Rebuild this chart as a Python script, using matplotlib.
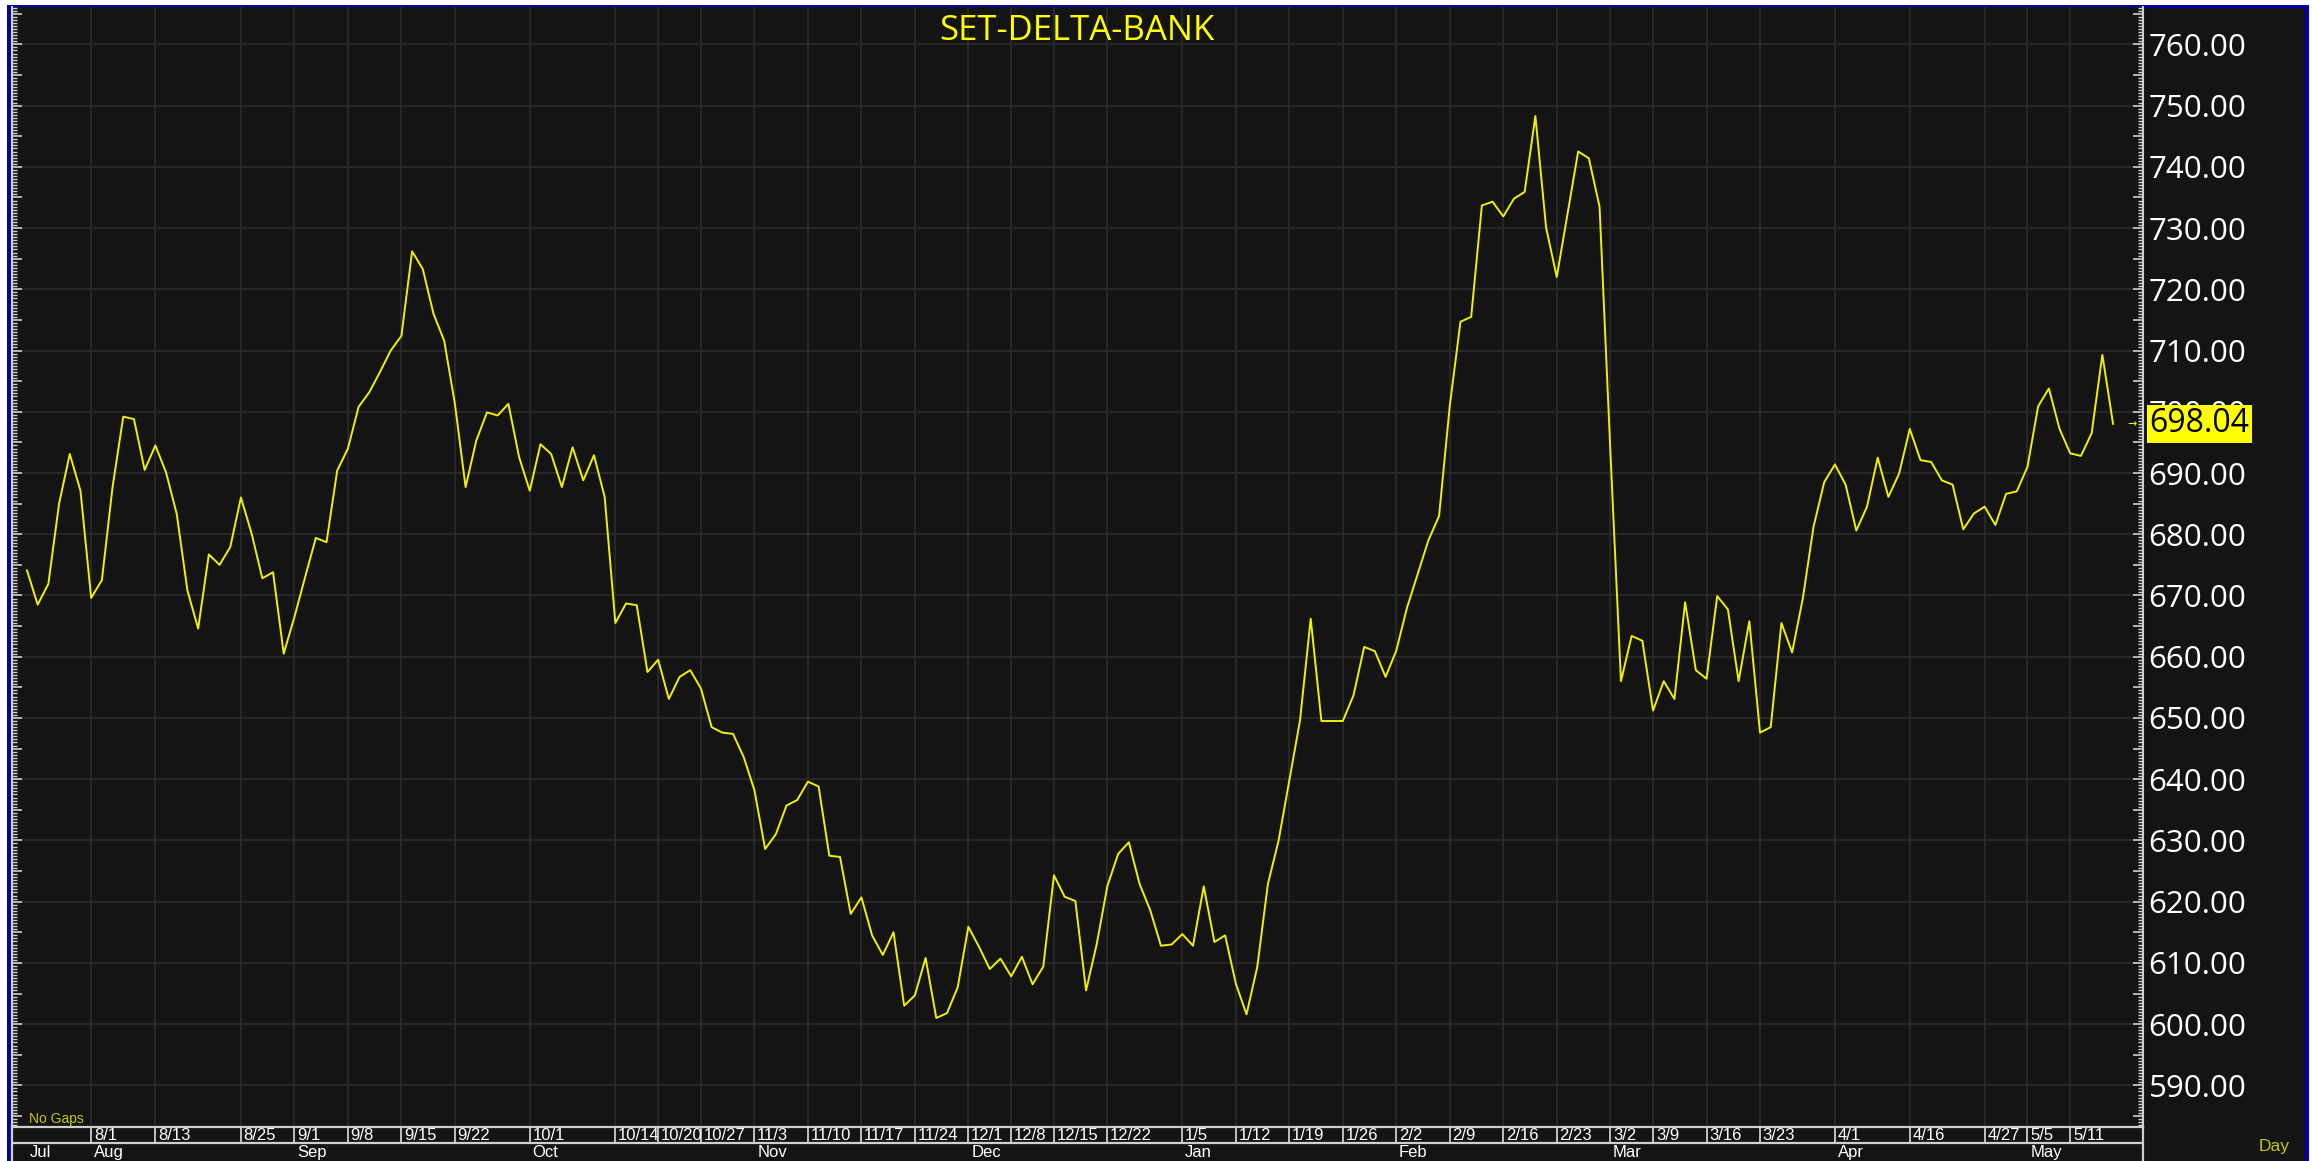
import numpy as np
import pandas as pd
import matplotlib
matplotlib.use('Agg')
import matplotlib.pyplot as plt
from matplotlib.patches import Rectangle
from matplotlib.ticker import MultipleLocator, FuncFormatter

plt.rcParams['font.family'] = ['Open Sans', 'DejaVu Sans']
narrow = ['Liberation Sans Narrow', 'Liberation Sans', 'DejaVu Sans']

title = 'SET-DELTA-BANK'

# trading calendar (SET, no gaps)
start_date = '2025-07-23'
end_date = '2026-05-15'
holidays = ['2025-07-28', '2025-08-11', '2025-08-12', '2025-10-13', '2025-10-23',
            '2025-12-05', '2025-12-10', '2025-12-31', '2026-01-01', '2026-01-02',
            '2026-03-03', '2026-04-06', '2026-04-13', '2026-04-14', '2026-04-15',
            '2026-05-01', '2026-05-04']

# daily close
closes = [
    674.1, 668.5, 671.9, 685.0, 693.1, 687.1, 669.6, 672.5, 687.7, 699.2,
    698.8, 690.5, 694.5, 690.1, 683.3, 670.8, 664.6, 676.7, 675.0, 677.9,
    686.0, 680.1, 672.8, 673.8, 660.5, 666.5, 673.0, 679.4, 678.7, 690.4,
    694.0, 700.8, 703.2, 706.5, 710.0, 712.4, 726.2, 723.3, 716.0, 711.6,
    701.3, 687.7, 695.3, 699.9, 699.4, 701.3, 692.6, 687.1, 694.7, 693.1,
    687.7, 694.2, 688.8, 692.9, 686.1, 665.5, 668.7, 668.4, 657.5, 659.5,
    653.1, 656.7, 657.8, 654.8, 648.5, 647.6, 647.4, 643.6, 638.2, 628.6,
    631.0, 635.7, 636.6, 639.6, 638.8, 627.5, 627.3, 618.0, 620.7, 614.5,
    611.3, 615.0, 603.0, 604.7, 610.8, 601.0, 601.8, 606.0, 615.9, 612.6,
    609.0, 610.7, 607.8, 611.0, 606.5, 609.4, 624.3, 620.8, 620.1, 605.5,
    613.1, 622.6, 627.8, 629.7, 622.9, 618.6, 612.8, 613.0, 614.7, 612.8,
    622.5, 613.4, 614.5, 606.6, 601.6, 609.3, 622.9, 630.0, 639.8, 649.6,
    666.2, 649.5, 649.5, 649.5, 653.7, 661.6, 660.9, 656.7, 661.0, 668.0,
    673.5, 679.0, 683.0, 701.0, 714.7, 715.5, 733.7, 734.3, 731.9, 734.8,
    735.9, 748.3, 730.1, 722.0, 732.3, 742.5, 741.4, 733.5, 694.0, 656.0,
    663.4, 662.6, 651.2, 656.0, 653.1, 668.9, 657.8, 656.4, 669.9, 667.7,
    656.0, 665.8, 647.6, 648.5, 665.5, 660.7, 669.5, 681.2, 688.5, 691.4,
    688.1, 680.6, 684.5, 692.5, 686.1, 689.9, 697.2, 692.1, 691.8, 688.8,
    688.1, 680.8, 683.4, 684.5, 681.5, 686.6, 687.0, 691.0, 700.9, 703.8,
    697.2, 693.2, 692.8, 696.5, 709.3, 698.04,
]
last_close = 698.04

day_labels = ['8/1', '8/13', '8/25', '9/1', '9/8', '9/15', '9/22', '10/1', '10/14',
              '10/20', '10/27', '11/3', '11/10', '11/17', '11/24', '12/1', '12/8',
              '12/15', '12/22', '1/5', '1/12', '1/19', '1/26', '2/2', '2/9', '2/16',
              '2/23', '3/2', '3/9', '3/16', '3/23', '4/1', '4/16', '4/27', '5/5', '5/11']
day_label_dates = ['2025-08-01', '2025-08-13', '2025-08-25', '2025-09-01', '2025-09-08',
                   '2025-09-15', '2025-09-22', '2025-10-01', '2025-10-14', '2025-10-20',
                   '2025-10-27', '2025-11-03', '2025-11-10', '2025-11-17', '2025-11-24',
                   '2025-12-01', '2025-12-08', '2025-12-15', '2025-12-22', '2026-01-05',
                   '2026-01-12', '2026-01-19', '2026-01-26', '2026-02-02', '2026-02-09',
                   '2026-02-16', '2026-02-23', '2026-03-02', '2026-03-09', '2026-03-16',
                   '2026-03-23', '2026-04-01', '2026-04-16', '2026-04-27', '2026-05-05',
                   '2026-05-11']
month_labels = ['Jul', 'Aug', 'Sep', 'Oct', 'Nov', 'Dec', 'Jan', 'Feb', 'Mar', 'Apr', 'May']
month_label_dates = ['2025-07-23', '2025-08-01', '2025-09-01', '2025-10-01', '2025-11-03',
                     '2025-12-01', '2026-01-05', '2026-02-02', '2026-03-02', '2026-04-01',
                     '2026-05-05']

dates = pd.bdate_range(start_date, end_date, freq='C', holidays=holidays)
x = np.arange(len(closes))
day_idx = dates.get_indexer(pd.to_datetime(day_label_dates))
month_idx = dates.get_indexer(pd.to_datetime(month_label_dates))

W, H = 2318, 1161
def fx(px):
    return px / W
def fy(py):
    return 1 - py / H

bg = '#141414'
grid_c = '#2a2a2a'
axis_c = '#cfcfcf'
yellow = '#ffff00'
olive = '#c8c800'

fig = plt.figure(figsize=(W / 100, H / 100), dpi=100, facecolor='white')
fig.patches.append(Rectangle((fx(7), 0), fx(2309) - fx(7), fy(5), transform=fig.transFigure,
                             facecolor='#0000a8', edgecolor='none', zorder=-20))
fig.patches.append(Rectangle((fx(10), 0), fx(2305) - fx(10), fy(8), transform=fig.transFigure,
                             facecolor=bg, edgecolor='none', zorder=-10))

# main price panel
ax = fig.add_axes([fx(12), fy(1127), fx(2143) - fx(12), fy(7) - fy(1127)])
ax.set_facecolor(bg)
ax.set_xlim(-1.4, 197.8)
ax.set_ylim(583.2, 766.1)

for v in range(590, 761, 10):
    ax.axhline(v, color=grid_c, lw=1.3, zorder=0)
for i in day_idx:
    ax.axvline(i, color=grid_c, lw=1.3, zorder=0)

ax.plot(x, closes, color='#f0f000', lw=1.4, zorder=3)

for s in ['top', 'bottom']:
    ax.spines[s].set_visible(False)
for s in ['left', 'right']:
    ax.spines[s].set_color(axis_c)
    ax.spines[s].set_linewidth(1.5)

ax.set_xticks([])
ax.yaxis.set_major_locator(MultipleLocator(5))
ax.yaxis.set_minor_locator(MultipleLocator(0.5))
ax.yaxis.set_major_formatter(FuncFormatter(
    lambda v, p: f'{v:.2f}' if abs(v / 10 - round(v / 10)) < 1e-6 else ''))
ax.tick_params(axis='y', which='both', direction='in', left=True, right=True,
               labelleft=False, labelright=True, color=axis_c, labelcolor='white')
ax.tick_params(axis='y', which='major', length=7, width=1.2, labelsize=22.5, pad=4)
ax.tick_params(axis='y', which='minor', length=3.5, width=1)

# last value tag
ax.annotate(f'{last_close:.2f}', xy=(1, last_close), xycoords=('axes fraction', 'data'),
            xytext=(4.8, 0), textcoords='offset points', ha='left', va='center',
            fontsize=23, color='black', annotation_clip=False, zorder=10,
            bbox=dict(boxstyle='square,pad=0.07', facecolor=yellow, edgecolor='none'))
ax.annotate('\u2192', xy=(1, last_close), xycoords=('axes fraction', 'data'),
            xytext=(-8, 0), textcoords='offset points', ha='center', va='center',
            fontsize=8, color=yellow, family='DejaVu Sans', annotation_clip=False)

fig.text(fx(1077), fy(31), title, ha='center', va='center', fontsize=25, color=yellow)
fig.text(fx(29), fy(1119), 'No Gaps', ha='left', va='center', fontsize=10,
         color=olive, family=narrow)
fig.text(fx(2259), fy(1146), 'Day', ha='left', va='center', fontsize=12.5,
         color=olive, family=narrow)

# date strip
sx = fig.add_axes([fx(12), 0, fx(2143) - fx(12), fy(1127)])
sx.set_facecolor(bg)
sx.set_xlim(ax.get_xlim())
sx.set_ylim(0, 34)
sx.set_xticks([])
sx.set_yticks([])
sx.spines['bottom'].set_visible(False)
for s in ['top', 'left', 'right']:
    sx.spines[s].set_color(axis_c)
    sx.spines[s].set_linewidth(1.6)
sx.axhline(18, color=axis_c, lw=1.6)
sx.vlines(day_idx, 18, 34, colors=axis_c, lw=1.3)
for i, lab in zip(day_idx, day_labels):
    sx.annotate(lab, xy=(i, 25.5), xytext=(2, 0), textcoords='offset points',
                ha='left', va='center', fontsize=12, color='white', family=narrow)
for i, lab in zip(month_idx, month_labels):
    sx.annotate(lab, xy=(i, 8.5), xytext=(2, 0), textcoords='offset points',
                ha='left', va='center', fontsize=12, color='white', family=narrow)

fig.savefig('out.png', dpi=100, facecolor=fig.get_facecolor())
